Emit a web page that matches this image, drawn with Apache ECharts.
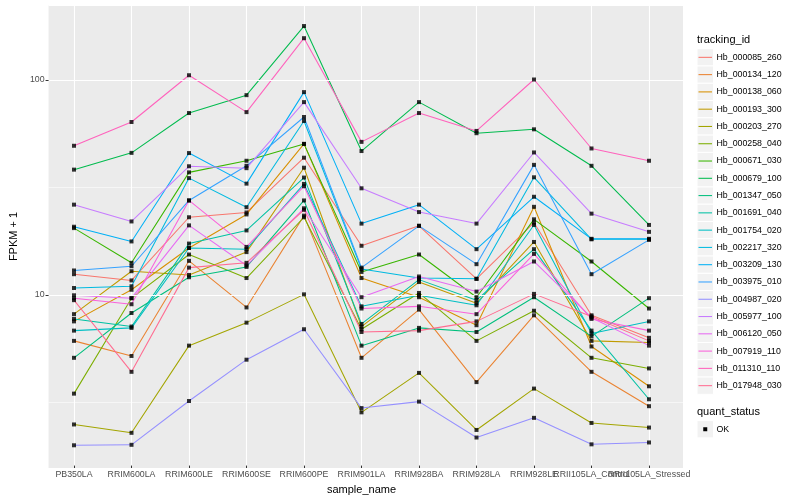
<!DOCTYPE html>
<html><head><meta charset="utf-8">
<script src="https://cdn.jsdelivr.net/npm/echarts@6/dist/echarts.min.js"></script>
<style>html,body{margin:0;padding:0;background:#fff}#c{width:800px;height:500px}</style>
</head><body><div id="c"></div>
<script>
const categories = ['PB350LA','RRIM600LA','RRIM600LE','RRIM600SE','RRIM600PE','RRIM901LA','RRIM928BA','RRIM928LA','RRIM928LE','RRII105LA_Control','RRII105LA_Stressed'];
const trackingIds = ['Hb_000085_260','Hb_000134_120','Hb_000138_060','Hb_000193_300','Hb_000203_270','Hb_000258_040','Hb_000671_030','Hb_000679_100','Hb_001347_050','Hb_001691_040','Hb_001754_020','Hb_002217_320','Hb_003209_130','Hb_003975_010','Hb_004987_020','Hb_005977_100','Hb_006120_050','Hb_007919_110','Hb_011310_110','Hb_017948_030'];
const colors = ['#F8766D','#EA8331','#D89000','#C09B00','#A3A500','#7CAE00','#39B600','#00BB4E','#00BF7D','#00C1A3','#00BFC4','#00BAE0','#00B0F6','#35A2FF','#9590FF','#C77CFF','#E76BF3','#FA62DB','#FF62BC','#FF6C91'];

const v000085_260 = [12.3, 11.5, 22.7, 23.9, 43.1, 16.7, 20.7, 11.7, 21.4, 7.9, 6.2];
const v000134_120 = [6.0, 5.1, 14.2, 8.6, 23.1, 5.0, 8.4, 3.85, 7.9, 4.3, 2.97];
const v000138_060 = [7.4, 10.4, 16.3, 23.4, 50.0, 11.8, 9.6, 7.1, 25.4, 5.65, 3.68];
const v000193_300 = [8.0, 12.7, 12.2, 15.6, 38.7, 7.0, 11.3, 9.0, 17.4, 6.0, 5.9];
const v000203_270 = [2.44, 2.23, 5.7, 7.3, 9.9, 2.78, 4.25, 2.30, 3.59, 2.48, 2.36];
const v000258_040 = [3.40, 9.5, 15.2, 11.8, 22.7, 6.8, 10.05, 6.0, 8.3, 5.0, 4.46];
const v000671_030 = [20.2, 13.9, 36.8, 41.7, 50.0, 12.6, 15.2, 9.6, 22.2, 14.1, 8.5];
const v000679_100 = [37.9, 45.4, 69.7, 84.5, 177.8, 46.3, 78.4, 56.1, 58.5, 39.5, 20.9];
const v001347_050 = [5.0, 8.1, 11.9, 13.3, 27.2, 5.7, 6.9, 6.6, 9.6, 6.3, 9.5];
const v001691_040 = [7.6, 7.0, 17.1, 19.7, 34.8, 7.2, 11.6, 9.3, 16.1, 6.7, 3.2];
const v001754_020 = [6.7, 6.9, 16.3, 16.1, 32.5, 8.7, 9.8, 8.8, 20.9, 6.5, 7.4];
const v002217_320 = [10.6, 10.8, 34.6, 25.3, 64.0, 13.0, 11.8, 11.7, 34.9, 17.9, 17.9];
const v003209_130 = [20.5, 17.5, 45.3, 32.6, 87.3, 21.2, 26.0, 16.1, 28.3, 18.0, 18.0];
const v003975_010 = [12.8, 13.4, 27.2, 39.5, 66.8, 13.2, 20.7, 13.7, 39.9, 12.3, 17.8];
const v004987_020 = [1.95, 1.96, 3.14, 4.9, 6.8, 2.91, 3.12, 2.12, 2.62, 1.97, 2.01];
const v005977_100 = [26.0, 21.7, 39.3, 38.5, 78.4, 31.0, 24.0, 21.2, 45.6, 23.6, 19.4];
const v006120_050 = [9.8, 9.5, 20.8, 13.5, 25.0, 9.6, 12.0, 10.2, 14.1, 7.7, 5.7];
const v007919_110 = [9.5, 8.9, 27.2, 16.5, 31.7, 8.5, 8.7, 8.0, 15.3, 7.6, 6.7];
const v011310_110 = [49.0, 63.3, 104.7, 70.4, 156.0, 51.1, 69.7, 57.5, 100, 47.6, 41.7];
const v017948_030 = [9.3, 4.3, 13.2, 13.9, 24.6, 6.6, 6.7, 7.4, 9.95, 7.8, 6.0];

const seriesValues = [v000085_260, v000134_120, v000138_060, v000193_300, v000203_270, v000258_040, v000671_030, v000679_100, v001347_050, v001691_040, v001754_020, v002217_320, v003209_130, v003975_010, v004987_020, v005977_100, v006120_050, v007919_110, v011310_110, v017948_030];
const quantStatus = ['OK'];
const yMin = 1.567, yMax = 223;

const FONT = 'Liberation Sans, Arial, Helvetica, sans-serif';
const chart = echarts.init(document.getElementById('c'));

const lineSeries = seriesValues.map((vals, i) => ({
  name: trackingIds[i], type: 'line', xAxisIndex: 1, yAxisIndex: 2,
  data: vals, symbol: 'none', silent: true, animation: false, z: 2,
  lineStyle: { color: colors[i], width: 1.05 }, itemStyle: { color: colors[i] }
}));
const pointData = [];
seriesValues.forEach(vals => vals.forEach((v, j) => pointData.push([categories[j], v])));
const pointSeries = {
  name: 'OK', type: 'scatter', xAxisIndex: 1, yAxisIndex: 2, data: pointData,
  symbol: 'rect', symbolSize: 4, itemStyle: { color: '#000' }, silent: true, animation: false, z: 5
};

// legend drawn as graphic elements (ggplot style keys)
const LX = 697, KEY = 17.28, LTOP = 48.7;
const graphics = [];
graphics.push({ type: 'text', x: LX, y: 40, style: { text: 'tracking_id', fontSize: 11, fontFamily: FONT, fill: '#000', verticalAlign: 'middle', textVerticalAlign: 'middle' } });
trackingIds.forEach((name, i) => {
  const top = LTOP + i * KEY, cy = top + KEY / 2;
  graphics.push({ type: 'rect', shape: { x: LX, y: top, width: 16.5, height: KEY }, style: { fill: '#F2F2F2', stroke: '#FFFFFF', lineWidth: 1 } });
  graphics.push({ type: 'line', shape: { x1: LX + 1.5, y1: cy, x2: LX + 15, y2: cy }, style: { stroke: colors[i], lineWidth: 1.05 } });
  graphics.push({ type: 'text', x: LX + 19.5, y: cy, style: { text: name, fontSize: 8.8, fontFamily: FONT, fill: '#000', verticalAlign: 'middle', textVerticalAlign: 'middle' } });
});
const QT = 412;
graphics.push({ type: 'text', x: LX, y: QT, style: { text: 'quant_status', fontSize: 11, fontFamily: FONT, fill: '#000', verticalAlign: 'middle', textVerticalAlign: 'middle' } });
quantStatus.forEach((name, i) => {
  const top = QT + 8.6 + i * KEY, cy = top + KEY / 2;
  graphics.push({ type: 'rect', shape: { x: LX, y: top, width: 16.5, height: KEY }, style: { fill: '#F2F2F2', stroke: '#FFFFFF', lineWidth: 1 } });
  graphics.push({ type: 'rect', shape: { x: LX + 6.25, y: cy - 2, width: 4, height: 4 }, style: { fill: '#000' } });
  graphics.push({ type: 'text', x: LX + 19.5, y: cy, style: { text: name, fontSize: 8.8, fontFamily: FONT, fill: '#000', verticalAlign: 'middle', textVerticalAlign: 'middle' } });
});

const option = {
  animation: false,
  backgroundColor: '#FFFFFF',
  textStyle: { fontFamily: FONT },
  grid: [
    { left: 40, right: 117, top: 5, bottom: 32, show: true, backgroundColor: '#EBEBEB', borderWidth: 0, containLabel: false },
    { left: 74, right: 151, top: 5, bottom: 32, show: false, containLabel: false }
  ],
  xAxis: [
    { type: 'value', gridIndex: 0, min: 0, max: 1, show: false },
    { type: 'category', gridIndex: 1, data: categories, boundaryGap: false,
      axisLine: { show: false },
      axisTick: { show: true, length: 3, lineStyle: { color: '#333333', width: 1 } },
      axisLabel: { interval: 0, margin: 4.5, fontSize: 8.8, color: '#4D4D4D', fontFamily: FONT },
      splitLine: { show: true, lineStyle: { color: '#FFFFFF', width: 1.1 } },
      name: 'sample_name', nameLocation: 'middle', nameGap: 14.5,
      nameTextStyle: { fontSize: 11, color: '#000', fontFamily: FONT } }
  ],
  yAxis: [
    { type: 'log', logBase: 10, gridIndex: 0, min: yMin, max: yMax, z: 3,
      axisLine: { show: false },
      axisTick: { show: true, length: 3, lineStyle: { color: '#333333', width: 1 } },
      axisLabel: { showMinLabel: false, showMaxLabel: false, margin: 4, fontSize: 8.8, color: '#4D4D4D', fontFamily: FONT },
      splitLine: { show: true, lineStyle: { color: '#FFFFFF', width: 1.1 } },
      name: 'FPKM + 1', nameLocation: 'middle', nameGap: 22, nameRotate: 90,
      nameTextStyle: { fontSize: 11, color: '#000', fontFamily: FONT } },
    { type: 'log', logBase: Math.sqrt(10), gridIndex: 0, min: yMin, max: yMax, z: 1,
      axisLine: { show: false }, axisTick: { show: false }, axisLabel: { show: false },
      splitLine: { show: true, lineStyle: { color: '#FFFFFF', width: 0.55 } } },
    { type: 'log', logBase: 10, gridIndex: 1, min: yMin, max: yMax, show: false,
      splitLine: { show: false } }
  ],
  graphic: graphics,
  series: [...lineSeries, pointSeries]
};
chart.setOption(option);
</script></body></html>
